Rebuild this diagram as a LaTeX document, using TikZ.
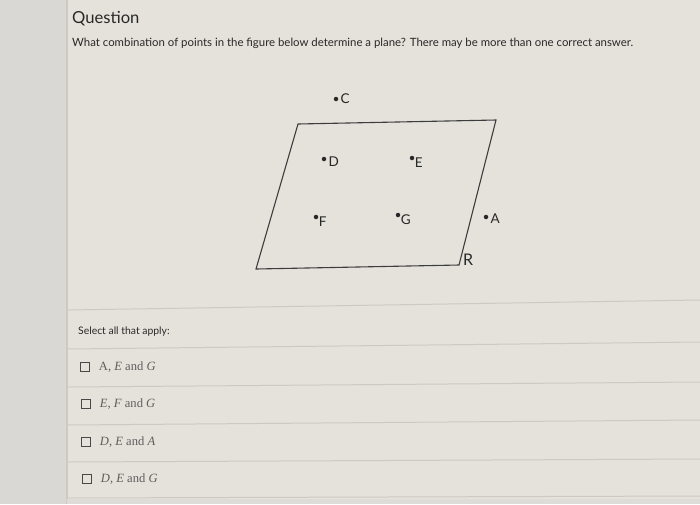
\documentclass[tikz,border=0pt]{standalone}
\usepackage{fontspec}
\setmainfont{Liberation Serif}
\setsansfont{Lato}
\usepackage{tikz}
\usetikzlibrary{positioning}
\definecolor{panel}{RGB}{229,226,219}
\definecolor{strip}{RGB}{218,216,212}
\definecolor{rule}{RGB}{205,202,196}
\definecolor{ink}{RGB}{40,40,40}
\tikzstyle{dot} = [circle, fill=ink, inner sep=0pt, minimum size=4.5pt]
\tikzstyle{pointlabel} = [font=\sffamily\fontsize{13.5}{16}\selectfont, inner sep=1pt, text=ink]
\tikzstyle{divider} = [draw=rule, line width=1pt]
\tikzstyle{checkbox} = [rectangle, draw=ink!85, line width=1pt, minimum size=8.5pt, inner sep=0pt]
\tikzstyle{answer} = [font=\fontsize{12.6}{15}\selectfont, text=ink!75, inner sep=0pt]

\begin{document}
\begin{tikzpicture}[x=1pt, y=-1pt, node distance=1pt]

		% page and panel
		\useasboundingbox (0,0) rectangle (700,504);
		\fill[strip] (0,0) rectangle (67,504);
		\fill[panel] (67,0) rectangle (700,504);
		\draw[rule, line width=1.2pt] (67,0) -- (67,504);

		% heading and prompt
		\node (title) [anchor=west, text=ink, font=\sffamily\fontsize{16.6}{20}\selectfont, inner sep=0pt] at (72,19) {Question};
		\node (prompt) [anchor=west, text=ink, font=\sffamily\fontsize{11.4}{13}\selectfont, inner sep=0pt] at (72,43) {What combination of points in the figure below determine a plane? There may be more than one correct answer.};

		% the plane
		\coordinate (tl) at (298,124);
		\coordinate (tr) at (496,120);
		\coordinate (br) at (459,265);
		\coordinate (bl) at (256,269);
		\draw[ink!90, line width=1.1pt] (tl) -- (tr) -- (br) -- (bl) -- cycle;
		\node (r) [pointlabel, font=\sffamily\fontsize{16}{18}\selectfont, anchor=north west] at (462,253) {R};

		% points
		\node (c) [dot] at (336,99) {};
		\node [pointlabel, right=of c] {C};
		\node (d) [dot] at (324,159) {};
		\node [pointlabel, right=of d, yshift=-3pt] {D};
		\node (e) [dot] at (412,158) {};
		\node [pointlabel, below right=-3pt and 0pt of e] {E};
		\node (f) [dot] at (316,217) {};
		\node [pointlabel, below right=-3pt and 0pt of f] {F};
		\node (g) [dot] at (398,215) {};
		\node [pointlabel, below right=-3pt and 0pt of g] {G};
		\node (a) [dot] at (486,217) {};
		\node [pointlabel, right=of a, yshift=-2pt] {A};

		% answer rows
		\draw[divider] (67,310) -- (700,300);
		\draw[divider] (67,349) -- (700,342);
		\draw[divider] (67,387) -- (700,382);
		\draw[divider] (67,425) -- (700,420);
		\draw[divider] (67,462) -- (700,459);
		\draw[divider] (67,498) -- (700,496);
		\fill[strip!90] (67,499) rectangle (700,504);

		\node (select) [anchor=west, text=ink, font=\sffamily\fontsize{10.4}{12}\selectfont, inner sep=0pt] at (78,332) {Select all that apply:};

		\node (box1) [checkbox] at (85,367) {};
		\node (ans1) [answer, right=9pt of box1] {A, \textit{E} and \textit{G}};
		\node (box2) [checkbox] at (86,404) {};
		\node (ans2) [answer, right=9pt of box2] {\textit{E}, \textit{F} and \textit{G}};
		\node (box3) [checkbox] at (86,442) {};
		\node (ans3) [answer, right=9pt of box3] {\textit{D}, \textit{E} and \textit{A}};
		\node (box4) [checkbox] at (87,479) {};
		\node (ans4) [answer, right=9pt of box4] {\textit{D}, \textit{E} and \textit{G}};

	\end{tikzpicture}
\end{document}
